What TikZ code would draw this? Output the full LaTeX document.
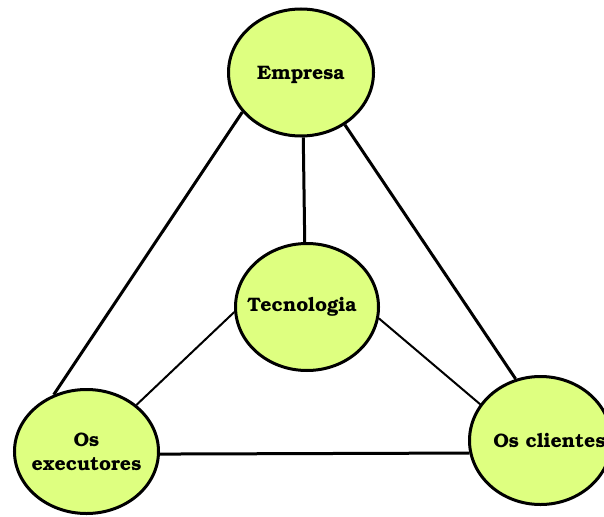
\documentclass[tikz,border=0pt]{standalone}
\usepackage[T1]{fontenc}
\usetikzlibrary{shapes.geometric}
\definecolor{bubble}{RGB}{222,255,128}
\begin{document}
\begin{tikzpicture}[x=1pt,y=-1pt,
  bubblenode/.style={ellipse,draw=black,line width=3pt,fill=bubble,inner sep=0pt},
  bubbletext/.style={font=\fontfamily{pbk}\fontsize{19.5}{24}\selectfont\bfseries,align=center,inner sep=0pt},
  outerlink/.style={line width=3pt},
  innerlink/.style={line width=2pt}]
\useasboundingbox (0,0) rectangle (604,516);
\node[bubblenode,minimum width=145pt,minimum height=127pt,
  label={[bubbletext,yshift=-2pt]center:Empresa}] (emp) at (301,72.5) {};
\node[bubblenode,minimum width=143pt,minimum height=127pt,
  label={[bubbletext,xshift=-5pt]center:Tecnologia}] (tec) at (307,307) {};
\node[bubblenode,minimum width=144pt,minimum height=124pt,
  label={[bubbletext]center:Os\\executores}] (exe) at (86.5,451.5) {};
\node[bubblenode,minimum width=142pt,minimum height=128pt,
  label={[bubbletext,xshift=9pt]center:Os clientes}] (cli) at (540.5,440.5) {};
\draw[outerlink] (emp.214.5) -- (exe.120.9);
\draw[outerlink] (emp.310.6) -- (cli.112.3);
\draw[outerlink] (emp.272) -- (tec.92);
\draw[outerlink] (exe.358.4) -- (cli.190.5);
\draw[innerlink] (tec.184.9) -- (exe.43.2);
\draw[innerlink] (tec.351.3) -- (cli.149.7);
\end{tikzpicture}
\end{document}
